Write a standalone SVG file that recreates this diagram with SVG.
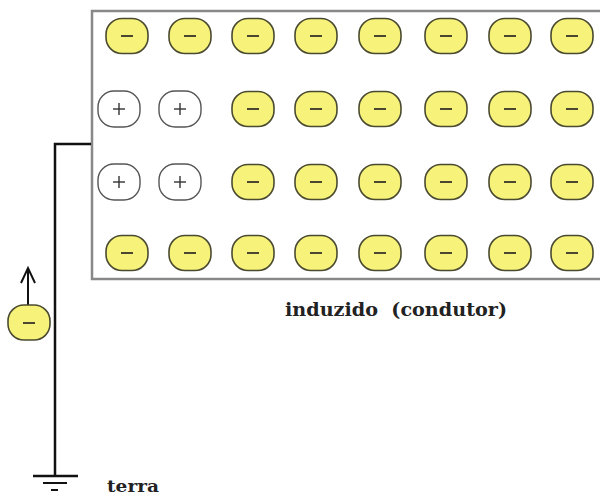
<svg xmlns="http://www.w3.org/2000/svg" width="600" height="498" viewBox="0 0 600 498">
<defs>
<style>
.neg rect{fill:#f6f27a;stroke:#4a4a30;stroke-width:1.6}
.neg line{stroke:#4a4630;stroke-width:2}
.pos rect{fill:#ffffff;stroke:#555;stroke-width:1.4}
.pos line{stroke:#333;stroke-width:1.4}
.wire{stroke:#111;stroke-width:2.5;fill:none}
.lbl{font-weight:bold;fill:#222;font-family:'DejaVu Serif','Liberation Serif',serif}
</style>
<g id="n" class="neg"><rect x="-21" y="-17.5" width="42" height="35" rx="16" ry="16"/><line x1="-6" y1="0" x2="6" y2="0"/></g>
<g id="p" class="pos"><rect x="-21" y="-18" width="42" height="36" rx="16" ry="16"/><line x1="-6" y1="0" x2="6" y2="0"/><line x1="0" y1="-6" x2="0" y2="6"/></g>
</defs>
<rect width="600" height="498" fill="#fff"/>
<g id="conductor">
<rect x="92" y="11" width="520" height="268" fill="#fff" stroke="#888" stroke-width="2.5"/>
</g>
<g id="charges">
<use href="#n" x="127" y="36"/><use href="#n" x="190" y="36"/><use href="#n" x="253" y="36"/><use href="#n" x="316" y="36"/><use href="#n" x="380" y="36"/><use href="#n" x="446" y="36"/><use href="#n" x="510" y="36"/><use href="#n" x="572" y="36"/>
<use href="#p" x="119" y="109"/><use href="#p" x="180" y="109"/><use href="#n" x="253" y="109"/><use href="#n" x="316" y="109"/><use href="#n" x="380" y="109"/><use href="#n" x="446" y="109"/><use href="#n" x="510" y="109"/><use href="#n" x="572" y="109"/>
<use href="#p" x="119" y="182"/><use href="#p" x="180" y="182"/><use href="#n" x="253" y="182"/><use href="#n" x="316" y="182"/><use href="#n" x="380" y="182"/><use href="#n" x="446" y="182"/><use href="#n" x="510" y="182"/><use href="#n" x="572" y="182"/>
<use href="#n" x="127" y="253"/><use href="#n" x="190" y="253"/><use href="#n" x="253" y="253"/><use href="#n" x="316" y="253"/><use href="#n" x="380" y="253"/><use href="#n" x="446" y="253"/><use href="#n" x="510" y="253"/><use href="#n" x="572" y="253"/>
</g>
<g id="connectors">
<path class="wire" d="M91 144 H55 V476"/>
<line x1="33" y1="476" x2="78" y2="476" stroke="#111" stroke-width="2.5"/>
<line x1="43" y1="483" x2="67" y2="483" stroke="#111" stroke-width="2"/>
<line x1="51" y1="490" x2="58" y2="490" stroke="#111" stroke-width="2"/>
<path d="M28 305 V268 M21 283 L28 268 L35 283" stroke="#111" stroke-width="2" fill="none"/>
</g>
<g id="electron" class="neg"><rect x="8" y="305" width="42" height="35" rx="16" ry="16"/><line x1="23" y1="323" x2="35" y2="323"/></g>
<text class="lbl" x="285" y="316" font-size="18" textLength="222" lengthAdjust="spacingAndGlyphs" xml:space="preserve">induzido  (condutor)</text>
<text class="lbl" x="107" y="492" font-size="17" textLength="52" lengthAdjust="spacingAndGlyphs">terra</text>
</svg>
